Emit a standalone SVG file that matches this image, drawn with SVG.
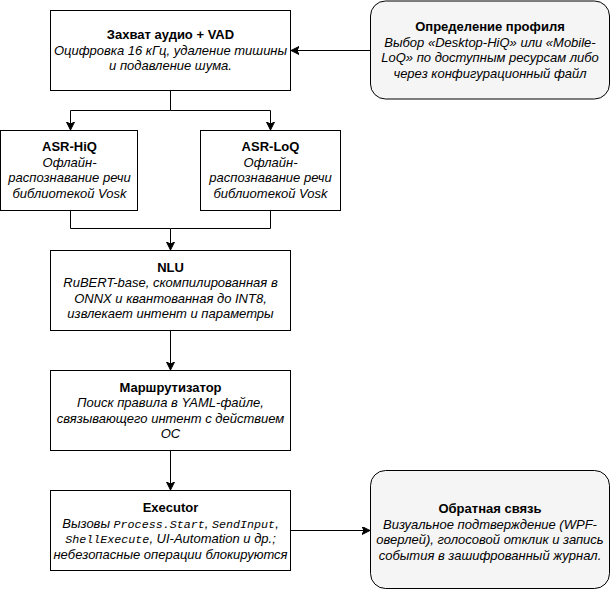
<svg xmlns="http://www.w3.org/2000/svg" width="611" height="591" viewBox="0 0 611 591">
<defs>
<style>
.box{fill:#ffffff;stroke:#000000;stroke-width:1}
.rbox{fill:#f5f5f5;stroke:#000000;stroke-width:1}
.edge{fill:none;stroke:#000000;stroke-width:1}
text{font-family:"Liberation Sans",Arial,sans-serif;font-size:13px;fill:#000000;text-anchor:middle}
.t{font-weight:bold}
.d{font-style:italic}
.m{font-family:"Liberation Mono","DejaVu Sans Mono",monospace;font-style:italic;font-size:11.7px}
</style>
<marker id="arr" markerUnits="userSpaceOnUse" markerWidth="10" markerHeight="10" refX="8" refY="4" orient="auto">
<path d="M0,0 L8,4 L0,8 L2,4 Z" fill="#000000" stroke="#000000" stroke-width="1"/>
</marker>
</defs>
<rect width="611" height="591" fill="#ffffff"/>
<g id="connectors">
<path class="edge" d="M170.5,90.5 V110.5 H70.5 V130" marker-end="url(#arr)"/>
<path class="edge" d="M170.5,110.5 H270.5 V130" marker-end="url(#arr)"/>
<path class="edge" d="M70.5,210.5 V228.5 H170.5 V250" marker-end="url(#arr)"/>
<path class="edge" d="M270.5,210.5 V228.5 H170.5"/>
<path class="edge" d="M170.5,330.5 V370" marker-end="url(#arr)"/>
<path class="edge" d="M170.5,450.5 V490" marker-end="url(#arr)"/>
<path class="edge" d="M290.5,530.5 H370" marker-end="url(#arr)"/>
<path class="edge" d="M370.5,50.5 H291" marker-end="url(#arr)"/>
</g>
<g id="capture">
<rect class="box" x="50.5" y="10.5" width="240" height="80"/>
<text x="170.5" y="38.5" class="t">Захват аудио + VAD</text>
<text x="170.5" y="54.5" class="d">Оцифровка 16 кГц, удаление тишины</text>
<text x="170.5" y="70" class="d">и подавление шума.</text>
</g>
<g id="profile">
<rect class="rbox" x="370.5" y="1" width="239" height="98" rx="15" ry="15"/>
<text x="490" y="31" class="t">Определение профиля</text>
<text x="490" y="46.5" class="d">Выбор «Desktop-HiQ» или «Mobile-</text>
<text x="490" y="62" class="d">LoQ» по доступным ресурсам либо</text>
<text x="490" y="77.5" class="d">через конфигурационный файл</text>
</g>
<g id="asr-hiq">
<rect class="box" x="0.5" y="130.5" width="137" height="80"/>
<text x="69.5" y="151" class="t">ASR-HiQ</text>
<text x="69.5" y="166.5" class="d">Офлайн-</text>
<text x="69.5" y="182" class="d">распознавание речи</text>
<text x="69.5" y="197.5" class="d">библиотекой Vosk</text>
</g>
<g id="asr-loq">
<rect class="box" x="200.5" y="130.5" width="140" height="80"/>
<text x="270.5" y="151" class="t">ASR-LoQ</text>
<text x="270.5" y="166.5" class="d">Офлайн-</text>
<text x="270.5" y="182" class="d">распознавание речи</text>
<text x="270.5" y="197.5" class="d">библиотекой Vosk</text>
</g>
<g id="nlu">
<rect class="box" x="50.5" y="250.5" width="240" height="80"/>
<text x="170.5" y="271.5" class="t">NLU</text>
<text x="170.5" y="287" class="d">RuBERT-base, скомпилированная в</text>
<text x="170.5" y="302.5" class="d">ONNX и квантованная до INT8,</text>
<text x="170.5" y="318" class="d">извлекает интент и параметры</text>
</g>
<g id="router">
<rect class="box" x="50.5" y="370.5" width="240" height="80"/>
<text x="170.5" y="391.5" class="t">Маршрутизатор</text>
<text x="170.5" y="407" class="d">Поиск правила в YAML-файле,</text>
<text x="170.5" y="422.5" class="d">связывающего интент с действием</text>
<text x="170.5" y="438" class="d">ОС</text>
</g>
<g id="executor">
<rect class="box" x="50.5" y="490.5" width="240" height="80"/>
<text x="170.5" y="512" class="t">Executor</text>
<text x="170.5" y="527.5" class="d">Вызовы <tspan class="m">Process.Start</tspan>, <tspan class="m">SendInput</tspan>,</text>
<text x="170.5" y="543" class="d"><tspan class="m">ShellExecute</tspan>, UI-Automation и др.;</text>
<text x="170.5" y="558.5" class="d">небезопасные операции блокируются</text>
</g>
<g id="feedback">
<rect class="rbox" x="370.5" y="470.5" width="239" height="118" rx="15" ry="15"/>
<text x="490" y="513" class="t">Обратная связь</text>
<text x="490" y="528.5" class="d">Визуальное подтверждение (WPF-</text>
<text x="490" y="544" class="d">оверлей), голосовой отклик и запись</text>
<text x="490" y="559.5" class="d">события в зашифрованный журнал.</text>
</g>
</svg>
